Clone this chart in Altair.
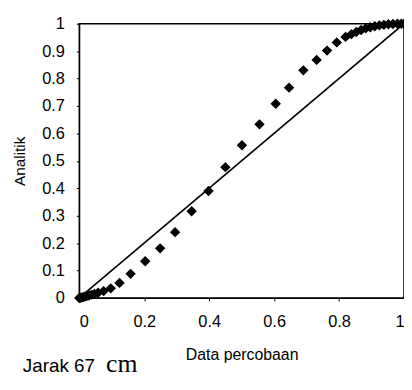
import altair as alt
import pandas as pd

# Data percobaan (x) vs Analitik (y)
x_vals = [0.0, 0.004, 0.008, 0.012, 0.017, 0.023, 0.03, 0.038, 0.047, 0.058, 0.075,
          0.097, 0.124, 0.158, 0.203, 0.249, 0.295, 0.346, 0.398, 0.45, 0.501,
          0.555, 0.605, 0.646, 0.69, 0.731, 0.763, 0.793, 0.82, 0.838, 0.853,
          0.868, 0.882, 0.896, 0.91, 0.924, 0.938, 0.952, 0.966, 0.98, 0.992, 1.0]
y_vals = [0.0, 0.001, 0.002, 0.003, 0.005, 0.007, 0.009, 0.012, 0.015, 0.019, 0.025,
          0.035, 0.055, 0.088, 0.134, 0.181, 0.24, 0.316, 0.39, 0.477, 0.557,
          0.633, 0.708, 0.767, 0.83, 0.868, 0.902, 0.932, 0.952, 0.962, 0.97,
          0.977, 0.983, 0.987, 0.991, 0.994, 0.996, 0.998, 0.999, 1.0, 1.0, 1.0]
line_x = [0.0, 1.0]
line_y = [0.0, 1.0]
x_ticks = [0, 0.2, 0.4, 0.6, 0.8, 1]
y_ticks = [0, 0.1, 0.2, 0.3, 0.4, 0.5, 0.6, 0.7, 0.8, 0.9, 1]

pts = pd.DataFrame({"x": x_vals, "y": y_vals})
ln = pd.DataFrame({"x": line_x, "y": line_y})

FONT = "Liberation Sans"

xscale = alt.Scale(domain=[0, 1], nice=False, zero=False)
yscale = alt.Scale(domain=[0, 1], nice=False, zero=False)

xaxis = alt.Axis(title="Data percobaan", values=x_ticks, format="~g", grid=False,
                 domainColor="black", tickColor="black", tickSize=3, labelOverlap=False,
                 labelFont=FONT, labelFontSize=16.5, labelColor="black", labelPadding=13,
                 titleFont=FONT, titleFontSize=16, titleFontWeight="normal",
                 titleColor="black", titlePadding=17)
yaxis = alt.Axis(title="Analitik", values=y_ticks, format="~g", grid=False,
                 domainColor="black", tickColor="black", tickSize=3, labelOverlap=False,
                 labelFont=FONT, labelFontSize=16.5, labelColor="black", labelPadding=12,
                 titleFont=FONT, titleFontSize=15.5, titleFontWeight="normal",
                 titleColor="black", titlePadding=14)

line = alt.Chart(ln).mark_line(color="black", strokeWidth=1.6).encode(
    x=alt.X("x:Q", scale=xscale, axis=xaxis),
    y=alt.Y("y:Q", scale=yscale, axis=yaxis),
)

points = alt.Chart(pts).mark_point(shape="diamond", filled=True, color="black",
                                   opacity=1, size=110).encode(
    x=alt.X("x:Q", scale=xscale, axis=xaxis),
    y=alt.Y("y:Q", scale=yscale, axis=yaxis),
)

label1 = alt.Chart(pd.DataFrame({"t": ["Jarak 67"]})).mark_text(
    font=FONT, fontSize=19, align="left", baseline="alphabetic", color="black"
).encode(text="t:N", x=alt.value(-57), y=alt.value(352))

label2 = alt.Chart(pd.DataFrame({"t": ["cm"]})).mark_text(
    font="Liberation Serif", fontSize=26, align="left", baseline="alphabetic", color="black"
).encode(text="t:N", x=alt.value(27), y=alt.value(352))

chart = alt.layer(line, points, label1, label2).properties(
    width=328, height=277,
    autosize=alt.AutoSizeParams(type="none"),
    padding={"left": 72, "top": 14, "right": 0, "bottom": 83},
).configure_view(stroke="black", strokeWidth=1.5)

chart.save("out.html", embed_options={"renderer": "svg", "actions": False})
